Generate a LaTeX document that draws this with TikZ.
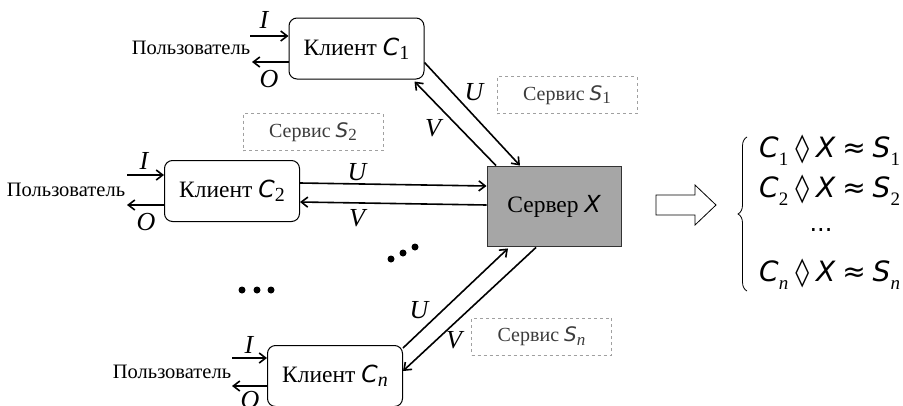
\documentclass[tikz,border=0pt]{standalone}
\usepackage{fontspec}
\setmainfont{Liberation Serif}
\newfontfamily\vsf{DejaVu Sans}
\usetikzlibrary{arrows.meta,calc,decorations.pathreplacing}
\newcommand\Sym[2]{{\vsf\itshape #1}\raisebox{-0.4ex}{\scalebox{0.85}{#2}}}
\newcommand\Rel[2]{{\vsf\itshape #1}\raisebox{-8pt}{\fontsize{19}{21}\selectfont #2}}
\newcommand\gap{\hspace{7pt}}
\definecolor{srvgray}{RGB}{166,166,166}
\definecolor{dashgray}{RGB}{160,160,160}
\definecolor{txtgray}{RGB}{60,60,60}
\tikzset{
  client/.style={draw, line width=1pt, rounded corners=8pt, minimum width=135pt, minimum height=61pt, inner sep=0pt, font=\fontsize{23.5}{27}\selectfont},
  server/.style={draw=black!80, fill=srvgray, line width=0.9pt, minimum width=134pt, minimum height=80pt, inner sep=0pt, font=\fontsize{23.5}{27}\selectfont},
  service/.style={draw=dashgray, dashed, line width=0.6pt, minimum width=140pt, minimum height=37pt, inner sep=0pt, text=txtgray, font=\fontsize{20}{23}\selectfont},
  user/.style={font=\fontsize{20.5}{23}\selectfont, inner sep=0pt},
  lbl/.style={font=\fontsize{26}{28}\selectfont\itshape, inner sep=0pt},
  flow/.style={line width=1.6pt, -{Straight Barb[length=6.5pt,width=10pt,line width=1.6pt]}},
  eq/.style={anchor=base west, inner sep=0pt, font=\fontsize{28}{32}\selectfont},
  dot/.style={fill=black, circle, inner sep=0pt, minimum size=7pt}
}
\begin{document}
\begin{tikzpicture}[x=1pt,y=-1pt]
\clip (0,0) rectangle (903,405);
\fill[white] (0,0) rectangle (903,405);

% clients and server
\node[client] (c1) at (356.5,48.5) {Клиент \Sym{C}{1}};
\node[client] (c2) at (232,191) {Клиент \Sym{C}{2}};
\node[client] (cn) at (335,376) {Клиент \Sym{C}{\textit{n}}};
\node[server] (x) at (554,206) {Сервер {\vsf\itshape X}};

% service boxes
\node[service] (s1) at (567,95) {Сервис \Sym{S}{1}};
\node[service] (s2) at (313,132) {Сервис \Sym{S}{2}};
\node[service] (sn) at (541.5,336.5) {Сервис \Sym{S}{\textit{n}}};

% users
\node[user] (u1) at (191,48) {Пользователь};
\node[user] (u2) at (66,190) {Пользователь};
\node[user] (un) at (172,372) {Пользователь};

% user I/O arrows
\coordinate (i1) at (250,36);  \coordinate (o1) at (252,62);
\coordinate (i2) at (127,175); \coordinate (o2) at (127,205);
\coordinate (in) at (232,358); \coordinate (on) at (232,386);
\draw[flow] (i1) -- (i1 -| c1.west);
\draw[flow] (o1 -| c1.west) -- (o1);
\draw[flow] (i2) -- (i2 -| c2.west);
\draw[flow] (o2 -| c2.west) -- (o2);
\draw[flow] (in) -- (in -| cn.west);
\draw[flow] (on -| cn.west) -- (on);
\node[lbl] at (264,20) {I};
\node[lbl] at (269,79) {O};
\node[lbl] at (144,161) {I};
\node[lbl] at (146,222) {O};
\node[lbl] at (249,345) {I};
\node[lbl] at (250,400) {O};

% client <-> server exchanges
\draw[flow] ($(c1.east)+(0,14)$) -- ($(x.north)+(-34,0)$);
\draw[flow] ($(x.north)+(-58,0)$) -- ($(c1.south east)+(-10,2)$);
\draw[flow] ($(c2.east)+(0,-8)$) -- ($(x.west)+(0,-20)$);
\draw[flow] ($(x.west)+(0,-1)$) -- ($(c2.east)+(0,11)$);
\draw[flow] ($(cn.north east)+(0,3)$) -- ($(x.south)+(-46,2)$);
\draw[flow] ($(x.south)+(-18,1)$) -- ($(cn.east)+(0,-5)$);
\node[lbl] at (474,92) {U};
\node[lbl] at (433,128) {V};
\node[lbl] at (357,172) {U};
\node[lbl] at (357,218) {V};
\node[lbl] at (419,310) {U};
\node[lbl] at (454,340) {V};

% ellipsis dots
\node[dot] (d1) at (391,259) {};
\node[dot] (d2) at (403,253) {};
\node[dot] (d3) at (415,247) {};
\node[dot] (d4) at (242,290) {};
\node[dot] (d5) at (257,290) {};
\node[dot] (d6) at (271,290) {};

% hollow implication arrow
\draw[line width=0.8pt, fill=white] (656,195) -- (695,195) -- (695,185) -- (716,205)
  -- (695,225) -- (695,215) -- (656,215) -- cycle;

% system of relations
\coordinate (bt) at (747,137);
\coordinate (bb) at (747,291);
\draw[line width=0.8pt, decorate, decoration={brace, amplitude=9pt}] (bb) -- (bt);
\node[eq] (e1) at (759,157) {\Rel{C}{1}\gap{\vsf\char"25CA}\gap{\vsf\itshape X}\gap{\vsf≈}\gap\Rel{S}{1}};
\node[eq] (e2) at (759,197) {\Rel{C}{2}\gap{\vsf\char"25CA}\gap{\vsf\itshape X}\gap{\vsf≈}\gap\Rel{S}{2}};
\node[inner sep=0pt, font=\fontsize{24}{26}\selectfont\vsf] (e3) at (821,230) {...};
\node[eq] (e4) at (759,281) {\Rel{C}{\textit{n}}\gap{\vsf\char"25CA}\gap{\vsf\itshape X}\gap{\vsf≈}\gap\Rel{S}{\textit{n}}};
\end{tikzpicture}
\end{document}
